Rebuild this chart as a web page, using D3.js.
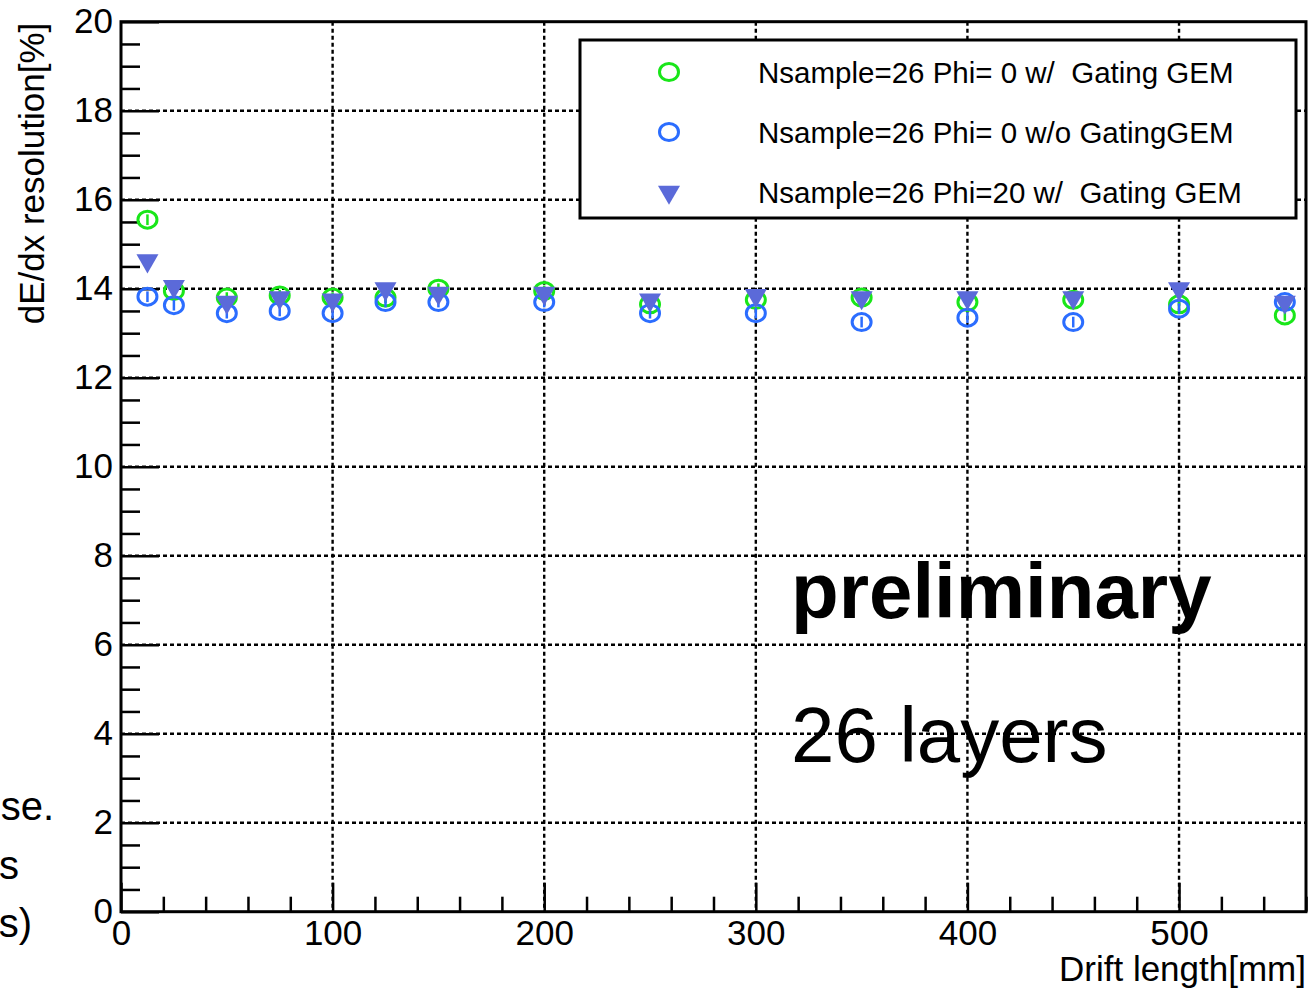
<!DOCTYPE html>
<html>
<head>
<meta charset="utf-8">
<script src="https://cdn.jsdelivr.net/npm/d3@7"></script>
<style>
  body { margin: 0; background: #fff; }
  svg { display: block; font-family: "Liberation Sans", Arial, Helvetica, sans-serif; }
  .tick text { font-family: "Liberation Sans", Arial, Helvetica, sans-serif; }
</style>
</head>
<body>
<script>
// drift length [mm] and dE/dx resolution [%] for the three settings
const driftLength = [12.5, 25, 50, 75, 100, 125, 150, 200, 250, 300, 350, 400, 450, 500, 550];
const phi0Gating = [15.55, 13.95, 13.8, 13.85, 13.8, 13.8, 14.0, 13.95, 13.65, 13.75, 13.8, 13.7, 13.75, 13.65, 13.4];
const phi0NoGating = [13.82, 13.63, 13.45, 13.5, 13.45, 13.7, 13.7, 13.7, 13.45, 13.45, 13.25, 13.35, 13.25, 13.55, 13.7];
const phi20Gating = [14.63, 14.05, 13.7, 13.8, 13.75, 14.0, 13.9, 13.9, 13.75, 13.85, 13.8, 13.8, 13.8, 14.0, 13.7];
const errorBar = 0.12;

const seriesNames = [
    "Nsample=26 Phi= 0 w/  Gating GEM",
    "Nsample=26 Phi= 0 w/o GatingGEM",
    "Nsample=26 Phi=20 w/  Gating GEM"
];
const xTicks = [0, 100, 200, 300, 400, 500];
const yTicks = [0, 2, 4, 6, 8, 10, 12, 14, 16, 18, 20];

const width = 1316;
const height = 991;
const frameLeft = 121;
const frameRight = 1306;
const frameTop = 21.7;
const frameBottom = 911.7;

const series = [
    { name: seriesNames[0], values: phi0Gating, color: "#19e619", shape: "circle" },
    { name: seriesNames[1], values: phi0NoGating, color: "#2b6dff", shape: "circle" },
    { name: seriesNames[2], values: phi20Gating, color: "#5b6ad9", shape: "triangle" }
];

const x = d3.scaleLinear().domain([0, 560]).range([frameLeft, frameRight]);
const y = d3.scaleLinear().domain([0, 20]).range([frameBottom, frameTop]);

const svg = d3.select("body").append("svg")
    .attr("width", width)
    .attr("height", height)
    .attr("viewBox", [0, 0, width, height]);

// dotted grid at the major ticks
const grid = svg.append("g")
    .attr("stroke", "#000")
    .attr("stroke-width", 2.4)
    .attr("stroke-dasharray", "4,3");
grid.selectAll("line.gx")
    .data(xTicks.filter(d => d > 0))
    .join("line")
    .attr("x1", d => x(d)).attr("x2", d => x(d))
    .attr("y1", frameTop).attr("y2", frameBottom);
grid.selectAll("line.gy")
    .data(yTicks.filter(d => d > 0 && d < 20))
    .join("line")
    .attr("x1", frameLeft).attr("x2", frameRight)
    .attr("y1", d => y(d)).attr("y2", d => y(d));

// axes, ticks pointing into the frame like ROOT
const xMinor = d3.range(0, 561, 20).filter(d => d % 100 !== 0);
const yMinor = d3.range(0, 20.01, 0.5).filter(d => d % 2 !== 0);

function styleAxis(g, size) {
    g.select(".domain").remove();
    g.selectAll(".tick line").attr("stroke", "#000").attr("stroke-width", 2.5);
    g.selectAll(".tick text").attr("fill", "#000").attr("font-size", size);
}

svg.append("g")
    .attr("transform", `translate(0,${frameBottom})`)
    .call(d3.axisBottom(x).tickValues(xTicks).tickSizeInner(-29).tickSizeOuter(0).tickPadding(8))
    .call(g => styleAxis(g, 35));
svg.append("g")
    .attr("transform", `translate(0,${frameBottom})`)
    .call(d3.axisBottom(x).tickValues(xMinor).tickSizeInner(-15).tickSizeOuter(0).tickFormat(""))
    .call(g => styleAxis(g, 35));

svg.append("g")
    .attr("transform", `translate(${frameLeft},0)`)
    .call(d3.axisLeft(y).tickValues(yTicks).tickSizeInner(-38).tickSizeOuter(0).tickPadding(8))
    .call(g => styleAxis(g, 35));
svg.append("g")
    .attr("transform", `translate(${frameLeft},0)`)
    .call(d3.axisLeft(y).tickValues(yMinor).tickSizeInner(-19).tickSizeOuter(0).tickFormat(""))
    .call(g => styleAxis(g, 35));

// frame
svg.append("rect")
    .attr("x", frameLeft).attr("y", frameTop)
    .attr("width", frameRight - frameLeft)
    .attr("height", frameBottom - frameTop)
    .attr("fill", "none")
    .attr("stroke", "#000")
    .attr("stroke-width", 3);

// axis titles
svg.append("text")
    .attr("x", frameRight)
    .attr("y", 981)
    .attr("text-anchor", "end")
    .attr("font-size", 35)
    .text("Drift length[mm]");

svg.append("text")
    .attr("transform", `translate(44,${frameTop + 1}) rotate(-90)`)
    .attr("text-anchor", "end")
    .attr("font-size", 35)
    .text("dE/dx resolution[%]");

// markers
const triangle = d3.symbol(d3.symbolTriangle, 210);

function drawMarker(g, s) {
    if (s.shape === "circle") {
        g.append("ellipse")
            .attr("rx", 9.5).attr("ry", 8.5)
            .attr("fill", "none")
            .attr("stroke", s.color)
            .attr("stroke-width", 3);
    } else {
        g.append("path")
            .attr("d", triangle)
            .attr("transform", "rotate(180)")
            .attr("fill", s.color);
    }
}

const points = svg.append("g");
series.forEach(s => {
    const g = points.append("g");
    s.values.forEach((v, i) => {
        const p = g.append("g")
            .attr("transform", `translate(${x(driftLength[i])},${y(v)})`);
        p.append("line")
            .attr("y1", y(v + errorBar) - y(v))
            .attr("y2", y(v - errorBar) - y(v))
            .attr("stroke", s.color)
            .attr("stroke-width", 2.5);
        drawMarker(p, s);
    });
});

// legend
const legend = svg.append("g");
legend.append("rect")
    .attr("x", 580).attr("y", 40)
    .attr("width", 716).attr("height", 178)
    .attr("fill", "#fff")
    .attr("stroke", "#000")
    .attr("stroke-width", 3);

series.forEach((s, i) => {
    const rowY = 72 + i * 60;
    const m = legend.append("g").attr("transform", `translate(669,${rowY})`);
    drawMarker(m, s);
    legend.append("text")
        .attr("x", 758)
        .attr("y", rowY)
        .attr("dy", "0.36em")
        .attr("font-size", 29.5)
        .style("white-space", "pre")
        .text(s.name);
});

// slide annotations
svg.append("text")
    .attr("x", 791).attr("y", 618)
    .attr("font-size", 78)
    .attr("font-weight", "bold")
    .text("preliminary");

svg.append("text")
    .attr("x", 791).attr("y", 762)
    .attr("font-size", 78)
    .text("26 layers");

// text from the slide that is cut off at the left edge
const cutText = [
    { text: "se.", x: 54, y: 820 },
    { text: "s", x: 19, y: 879 },
    { text: "s)", x: 32, y: 937 }
];
svg.append("g")
    .selectAll("text")
    .data(cutText)
    .join("text")
    .attr("x", d => d.x)
    .attr("y", d => d.y)
    .attr("text-anchor", "end")
    .attr("font-size", 40)
    .text(d => d.text);
</script>
</body>
</html>
